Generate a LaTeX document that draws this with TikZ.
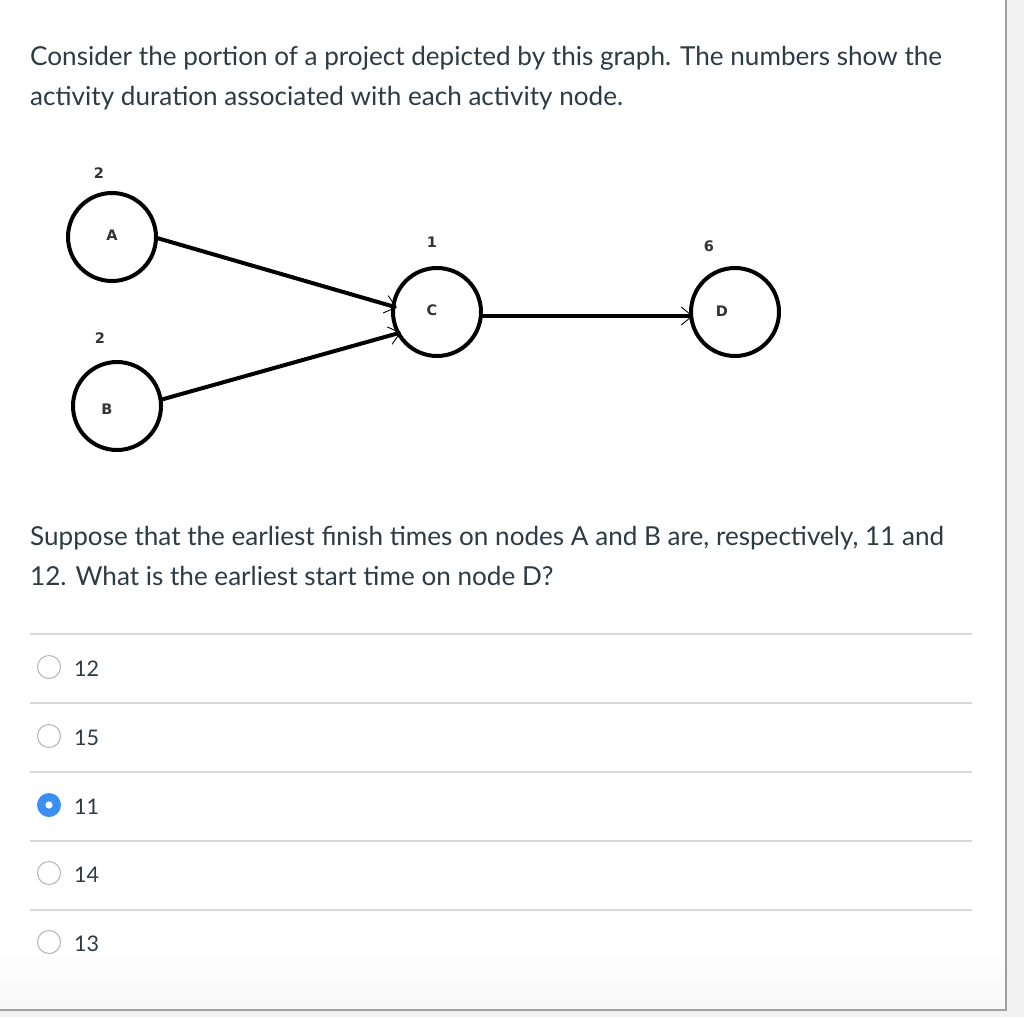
\documentclass[tikz,border=0pt]{standalone}
\usepackage{fontspec}
\setmainfont{Lato}
\newfontfamily\graphfont{DejaVu Sans}
\usetikzlibrary{arrows.meta}
\definecolor{txt}{RGB}{45,59,69}
\definecolor{sep}{RGB}{216,216,216}
\definecolor{radioedge}{RGB}{180,180,180}
\definecolor{radioblue}{RGB}{59,143,243}
\definecolor{outer}{RGB}{242,242,242}
\definecolor{frame}{RGB}{160,160,160}
\tikzset{
  body/.style={anchor=base west, inner sep=0pt, text=txt, font=\fontsize{26.1}{30}\selectfont},
  answer/.style={anchor=base west, inner sep=0pt, text=txt, font=\fontsize{21.5}{25}\selectfont},
  actnode/.style={circle, draw=black, line width=4pt, minimum size=88pt, inner sep=0pt},
  nodelbl/.style={inner sep=0pt, text=black!80, font=\graphfont\bfseries\fontsize{14.5}{16}\selectfont},
  durlbl/.style={inner sep=0pt, text=black!80, font=\graphfont\bfseries\fontsize{14.5}{16}\selectfont},
  link/.style={line width=4pt, -{Straight Barb[length=11pt, width=18pt, line width=0.9pt]}, shorten >=-2pt},
  radio/.style={circle, draw=radioedge, line width=1pt, fill=white, minimum size=23pt, inner sep=0pt},
  radiosel/.style={circle, fill=radioblue, minimum size=24pt, inner sep=0pt},
  sepline/.style={draw=sep, line width=1.2pt}
}
\begin{document}
\begin{tikzpicture}[x=1pt,y=-1pt]
\useasboundingbox (0,0) rectangle (1024,1017);
\fill[outer] (0,0) rectangle (1024,1017);
\fill[white] (0,0) rectangle (1006,1010);
\shade[top color=white, bottom color=black!3] (0,950) rectangle (1006,1010);
\draw[frame, line width=2pt] (1006,0) -- (1006,1010) -- (0,1010);

\node[body] (t1) at (30,65) {Consider the portion of a project depicted by this graph. The numbers show the};
\node[body] (t2) at (30,105) {activity duration associated with each activity node.};

\node[actnode] (A) at (112,237) {};
\node[actnode] (B) at (117,406) {};
\node[actnode] (C) at (437,312) {};
\node[actnode] (D) at (735,312) {};
\node[nodelbl] (la) at (112,235) {A};
\node[nodelbl] (lb) at (107,409) {B};
\node[nodelbl] (lc) at (432,310) {C};
\node[nodelbl] (ld) at (722,311) {D};
\node[durlbl] (da) at (99,173) {2};
\node[durlbl] (db) at (100,338) {2};
\node[durlbl] (dc) at (432,242) {1};
\node[durlbl] (dd) at (709,246) {6};

\coordinate (a1) at (157,238);
\coordinate (c1) at (395,307);
\coordinate (b1) at (160,400);
\coordinate (c2) at (399,333);
\coordinate (c3) at (480,316);
\coordinate (d1) at (691,316);
\draw[link] (a1) -- (c1);
\draw[link] (b1) -- (c2);
\draw[link] (c3) -- (d1);

\node[body] (q1) at (30,545) {Suppose that the earliest finish times on nodes A and B are, respectively, 11 and};
\node[body] (q2) at (30,585) {12. What is the earliest start time on node D?};

\coordinate (s0a) at (30,634); \coordinate (s0b) at (972,634);
\coordinate (s1a) at (30,703); \coordinate (s1b) at (972,703);
\coordinate (s2a) at (30,772); \coordinate (s2b) at (972,772);
\coordinate (s3a) at (30,841); \coordinate (s3b) at (972,841);
\coordinate (s4a) at (30,910); \coordinate (s4b) at (972,910);
\draw[sepline] (s0a) -- (s0b);
\draw[sepline] (s1a) -- (s1b);
\draw[sepline] (s2a) -- (s2b);
\draw[sepline] (s3a) -- (s3b);
\draw[sepline] (s4a) -- (s4b);

\node[radio] (r1) at (49,667) {};
\node[radio] (r2) at (49,736) {};
\node[radiosel] (r3) at (49,805) {};
\fill[white] (r3.center) circle (3.6pt);
\node[radio] (r4) at (49,873) {};
\node[radio] (r5) at (49,942) {};
\node[answer] (o1) at (74,676) {12};
\node[answer] (o2) at (74,745) {15};
\node[answer] (o3) at (74,814) {11};
\node[answer] (o4) at (74,882) {14};
\node[answer] (o5) at (74,951) {13};
\end{tikzpicture}
\end{document}
